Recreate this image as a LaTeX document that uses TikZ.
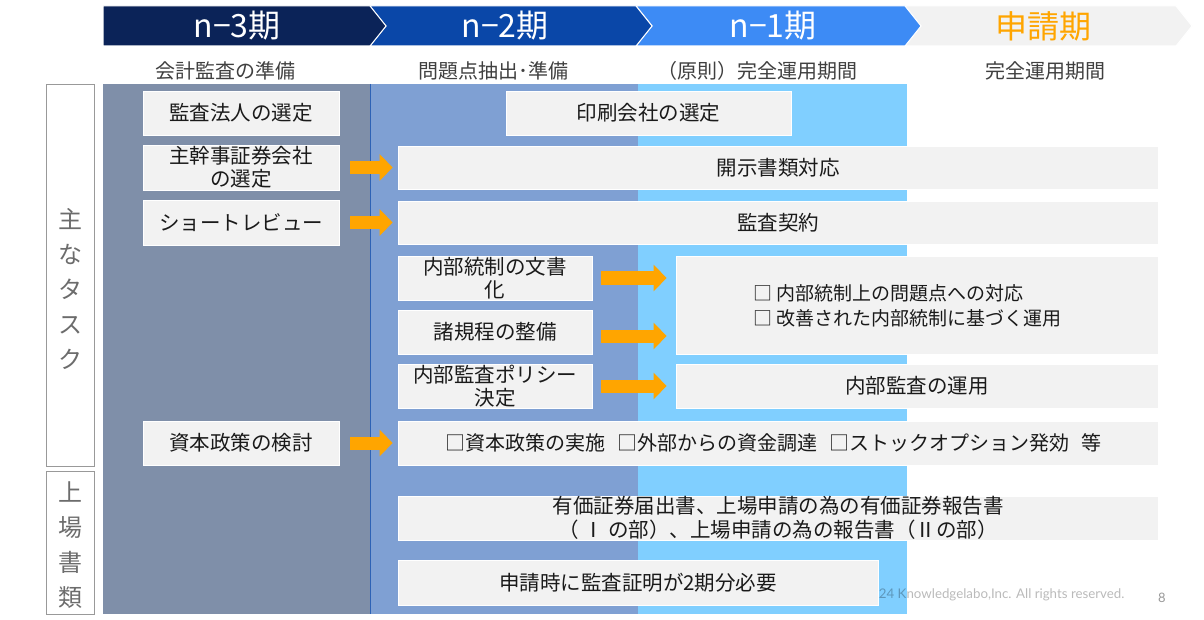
\documentclass[tikz,border=0pt]{standalone}
\usepackage{fontspec}
\setmainfont{Noto Sans CJK JP}
\newfontfamily\latofont{Lato}
\usetikzlibrary{arrows.meta}
\definecolor{navy}{HTML}{0B2358}
\definecolor{midblue}{HTML}{0A47A8}
\definecolor{brblue}{HTML}{3D8BF5}
\definecolor{lgray}{HTML}{F2F2F2}
\definecolor{colA}{HTML}{7F8FA9}
\definecolor{colB}{HTML}{7FA0D3}
\definecolor{colC}{HTML}{80CFFF}
\definecolor{orng}{HTML}{FFA500}
\definecolor{txt}{HTML}{1A1A1A}
\definecolor{subtxt}{HTML}{404040}
\tikzset{
  tbox/.style={draw=white, line width=0.8pt, fill=lgray, text=txt, font=\fontsize{20.5}{23}\selectfont, align=center, inner sep=0pt},
  chev/.style={draw=white, line width=1pt},
  htext/.style={font=\fontsize{32}{34}\selectfont, text=white},
  subt/.style={font=\fontsize{20}{22}\selectfont, text=subtxt},
  sidebox/.style={draw=gray!80, line width=0.8pt, fill=white},
  sidetxt/.style={font=\fontsize{24}{35}\selectfont, text=gray!85!black, align=center},
  oarrow/.style={draw=orng, line width=13pt, -{Triangle[length=13pt,width=26pt]}},
}
\begin{document}
\begin{tikzpicture}[x=1pt,y=-1pt]
\useasboundingbox (0,0) rectangle (1204,620);
\fill[white] (0,0) rectangle (1204,620);
% header chevrons
\draw[chev, fill=lgray] (905,6) -- (1176,6) -- (1192,26) -- (1176,46) -- (905,46) -- (921,26) -- cycle;
\draw[chev, fill=brblue] (636,6) -- (905,6) -- (921,26) -- (905,46) -- (636,46) -- (652,26) -- cycle;
\draw[chev, fill=midblue] (370,6) -- (636,6) -- (652,26) -- (636,46) -- (370,46) -- (386,26) -- cycle;
\draw[chev, fill=navy] (103,6) -- (370,6) -- (386,26) -- (370,46) -- (103,46) -- cycle;
\node[htext] (h1) at (237,26) {n−3期};
\node[htext] (h2) at (505,26) {n−2期};
\node[htext] (h3) at (773,26) {n−1期};
\node[htext, text=orng] (h4) at (1043,26) {申請期};
% subtitles
\node[subt] (s1) at (225,71) {会計監査の準備};
\node[subt] (s2) at (493,71) {問題点抽出･準備};
\node[subt] (s3) at (757,71) {（原則）完全運用期間};
\node[subt] (s4) at (1045,71) {完全運用期間};
% columns
\fill[colA] (103,84) rectangle (370,614);
\fill[colB] (370,84) rectangle (638,614);
\fill[colC] (638,84) rectangle (907,614);
\draw[midblue!70!colB, line width=0.8pt] (370,84) -- (370,614);
% side labels
\node[sidebox, minimum width=48, minimum height=382] (side1) at (70,275) {};
\node[sidetxt] (side1t) at (70,289) {主\\な\\タ\\ス\\ク};
\node[sidebox, minimum width=48, minimum height=143] (side2) at (70,542.5) {};
\node[sidetxt] (side2t) at (70,545) {上\\場\\書\\類};
% copyright (partly hidden)
\node[font=\latofont\fontsize{13.3}{15}\selectfont, text=black, text opacity=0.27, anchor=east] (copy) at (1128,595) {©2024 Knowledgelabo,Inc. All rights reserved.};
\node[font=\latofont\fontsize{13}{15}\selectfont, text=gray!80] (pg) at (1162,598) {8};
% boxes
\node[tbox, minimum width=196, minimum height=44] (b1) at (241,113) {監査法人の選定};
\node[tbox, minimum width=196, minimum height=45] (b2) at (241,167.5) {主幹事証券会社\\の選定};
\node[tbox, minimum width=196, minimum height=45] (b3) at (241,222.5) {ショートレビュー};
\node[tbox, minimum width=285, minimum height=44] (p1) at (648.5,113) {印刷会社の選定};
\node[tbox, minimum width=760, minimum height=43] (d1) at (778,167.5) {開示書類対応};
\node[tbox, minimum width=760, minimum height=43] (d2) at (778,222.5) {監査契約};
\node[tbox, minimum width=194, minimum height=44] (i1) at (495,278) {内部統制の文書\\化};
\node[tbox, minimum width=194, minimum height=44] (i2) at (495,332) {諸規程の整備};
\node[tbox, minimum width=194, minimum height=44] (i3) at (495,386) {内部監査ポリシー\\決定};
\node[tbox, minimum width=482, minimum height=98] (big) at (917,305) {};
\node[font=\fontsize{19}{25}\selectfont, text=txt, align=left, anchor=west] (bigt) at (750,306) {□ 内部統制上の問題点への対応\\□ 改善された内部統制に基づく運用};
\node[tbox, minimum width=482, minimum height=44] (ia) at (917,386) {内部監査の運用};
\node[tbox, minimum width=196, minimum height=44] (c1) at (241,443) {資本政策の検討};
\node[tbox, minimum width=760, minimum height=44] (c2) at (778,443) {};
\node[font=\fontsize{20}{23}\selectfont, text=txt] (c2t) at (773,443) {□資本政策の実施\hspace{12pt}□外部からの資金調達\hspace{12pt}□ストックオプション発効\hspace{12pt}等};
\node[tbox, minimum width=760, minimum height=44, font=\fontsize{20.5}{24}\selectfont] (y1) at (778,518) {有価証券届出書、上場申請の為の有価証券報告書\\（ Ⅰ の部）、上場申請の為の報告書（Ⅱの部）};
\node[tbox, minimum width=480, minimum height=45] (y2) at (638,582.5) {申請時に監査証明が2期分必要};
% arrows
\draw[oarrow, shorten <=11pt, shorten >=5pt] (b2.east) -- (d1.west);
\draw[oarrow, shorten <=11pt, shorten >=5pt] (b3.east) -- (d2.west);
\draw[oarrow, shorten <=11pt, shorten >=5pt] (c1.east) -- (c2.west);
\draw[oarrow, shorten <=9pt, shorten >=9pt] (i1.east) -- (i1.east -| big.west);
\draw[oarrow, shorten <=9pt, shorten >=9pt] ([yshift=-4pt]i2.east) -- ([yshift=-4pt]i2.east -| big.west);
\draw[oarrow, shorten <=9pt, shorten >=9pt] (i3.east) -- (ia.west);
\end{tikzpicture}
\end{document}
